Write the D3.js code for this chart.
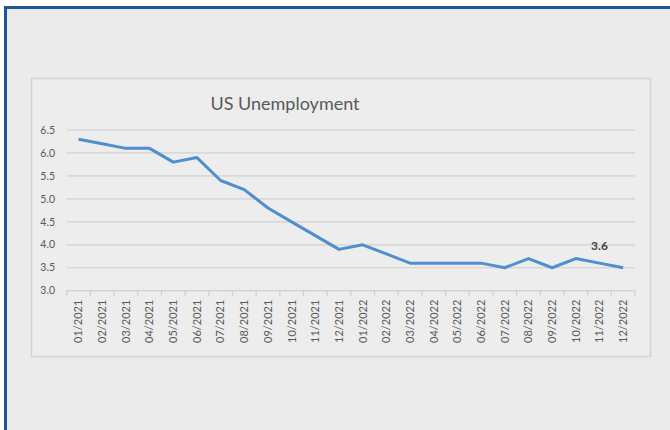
<!DOCTYPE html>
<html>
<head>
<meta charset="utf-8">
<script src="https://cdn.jsdelivr.net/npm/d3@7"></script>
<style>
  body { margin: 0; background: #ffffff; }
  svg { display: block; }
</style>
</head>
<body>
<div id="chart"></div>
<script>
// Data
var months = ["01/2021", "02/2021", "03/2021", "04/2021", "05/2021", "06/2021",
              "07/2021", "08/2021", "09/2021", "10/2021", "11/2021", "12/2021",
              "01/2022", "02/2022", "03/2022", "04/2022", "05/2022", "06/2022",
              "07/2022", "08/2022", "09/2022", "10/2022", "11/2022", "12/2022"];
var rates = [6.3, 6.2, 6.1, 6.1, 5.8, 5.9, 5.4, 5.2, 4.8, 4.5, 4.2, 3.9,
             4.0, 3.8, 3.6, 3.6, 3.6, 3.6, 3.5, 3.7, 3.5, 3.7, 3.6, 3.5];
var yTicks = [3.0, 3.5, 4.0, 4.5, 5.0, 5.5, 6.0, 6.5];
var labelMonth = "11/2022"; // the one point that has a data label

var width = 670, height = 430;
var font = "Lato, 'Open Sans', sans-serif";

var svg = d3.select("#chart")
   .append("svg")
   .attr("width", width)
   .attr("height", height);

// outer panel with blue frame (runs past the window at right and bottom)
svg.append("rect")
   .attr("x", 5.5).attr("y", 7.5)
   .attr("width", 700).attr("height", 460)
   .style("fill", "#ebebeb")
   .style("stroke", "#1f5597")
   .style("stroke-width", 3);

// chart area box
svg.append("rect")
   .attr("x", 31.5).attr("y", 78.5)
   .attr("width", 619).attr("height", 278)
   .style("fill", "#ededed")
   .style("stroke", "#d3d3d3")
   .style("stroke-width", 1.5);

var plot = { left: 66.7, right: 635, top: 130, bottom: 290.7 };

var x = d3.scaleBand()
   .domain(months)
   .range([plot.left, plot.right]);

var y = d3.scaleLinear()
   .domain([3.0, 6.5])
   .range([plot.bottom, plot.top]);

// horizontal gridlines
svg.append("g")
   .selectAll("line")
   .data(yTicks.slice(1))
   .enter().append("line")
   .attr("x1", plot.left)
   .attr("x2", plot.right)
   .attr("y1", function (d) { return y(d); })
   .attr("y2", function (d) { return y(d); })
   .style("stroke", "#d0d0d0")
   .style("stroke-width", 1.2);

// y axis labels
svg.append("g")
   .selectAll("text")
   .data(yTicks)
   .enter().append("text")
   .attr("x", 55)
   .attr("y", function (d) { return y(d); })
   .attr("dy", "0.35em")
   .attr("text-anchor", "end")
   .style("font-family", font)
   .style("font-size", "10.5px")
   .style("fill", "#595959")
   .text(function (d) { return d.toFixed(1); });

// x axis line with tick marks between categories
var xAxis = svg.append("g");
xAxis.append("line")
   .attr("x1", plot.left).attr("x2", plot.right)
   .attr("y1", plot.bottom).attr("y2", plot.bottom)
   .style("stroke", "#cfcfcf")
   .style("stroke-width", 1.2);

var bounds = months.map(function (m) { return x(m); }).concat([plot.right]);
xAxis.selectAll(".tick")
   .data(bounds)
   .enter().append("line")
   .attr("class", "tick")
   .attr("x1", function (d) { return d; })
   .attr("x2", function (d) { return d; })
   .attr("y1", plot.bottom)
   .attr("y2", plot.bottom + 5)
   .style("stroke", "#cfcfcf")
   .style("stroke-width", 1.2);

// rotated month labels
xAxis.selectAll(".lbl")
   .data(months)
   .enter().append("text")
   .attr("class", "lbl")
   .attr("transform", function (d) {
      return "translate(" + (x(d) + x.bandwidth() / 2) + "," + (plot.bottom + 9) + ") rotate(-90)";
   })
   .attr("dy", "0.35em")
   .attr("text-anchor", "end")
   .style("font-family", font)
   .style("font-size", "11px")
   .style("fill", "#595959")
   .text(function (d) { return d; });

// the series line
var line = d3.line()
   .x(function (d, i) { return x(months[i]) + x.bandwidth() / 2; })
   .y(function (d) { return y(d); });

svg.append("path")
   .datum(rates)
   .attr("d", line)
   .style("fill", "none")
   .style("stroke", "#4f8fd0")
   .style("stroke-width", 3)
   .style("stroke-linejoin", "round");

// data label
var li = months.indexOf(labelMonth);
svg.append("text")
   .attr("x", x(labelMonth) + x.bandwidth() / 2)
   .attr("y", y(rates[li]) - 13)
   .attr("text-anchor", "middle")
   .style("font-family", font)
   .style("font-size", "12px")
   .style("font-weight", "bold")
   .style("fill", "#404040")
   .text(rates[li].toFixed(1));

// title
svg.append("text")
   .attr("x", 285)
   .attr("y", 110)
   .attr("text-anchor", "middle")
   .style("font-family", font)
   .style("font-size", "18px")
   .style("fill", "#595959")
   .text("US Unemployment");
</script>
</body>
</html>
